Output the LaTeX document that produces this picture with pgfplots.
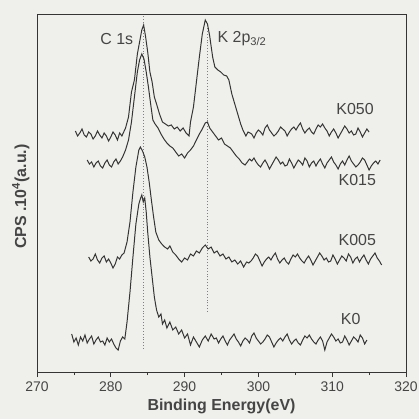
\documentclass[border=0pt]{standalone}
\usepackage{pgfplots}
\pgfplotsset{compat=1.18}
\usepackage{fontspec}
\setmainfont{Liberation Sans}
\definecolor{bg}{HTML}{EFEFEB}
\definecolor{ln}{HTML}{353535}
\definecolor{tx}{HTML}{454545}
\begin{document}
\begin{tikzpicture}
\fill[bg] (-37bp,-47bp) rectangle (382bp,372bp);
\useasboundingbox (-37bp,-47bp) rectangle (382bp,372bp);
\begin{axis}[
  at={(0,0)}, anchor=south west,
  scale only axis, width=369bp, height=358bp,
  xmin=270, xmax=320, ymin=0, ymax=358,
  xtick={270,280,...,320}, minor x tick num=1,
  xtick pos=bottom, ytick=\empty,
  tick align=outside,
  major tick length=5bp, minor tick length=3bp,
  axis line style={ln, line width=0.8pt},
  every tick/.style={ln, line width=0.8pt},
  /pgf/number format/assume math mode=true,
  /pgf/number format/1000 sep={},
  ticklabel style={font=\fontsize{14}{16}\selectfont, text=tx},
  xticklabel style={yshift=-1bp},
  xlabel={\bfseries Binding Energy(eV)},
  xlabel style={font=\fontsize{16}{18}\selectfont, text=tx, at={(axis description cs:0.5,0)}, anchor=north, yshift=-23bp},
  ylabel={\bfseries CPS .10$^{\mathbf 4}$(a.u.)},
  ylabel style={font=\fontsize{16}{18}\selectfont, text=tx, at={(axis description cs:0,0.49)}, anchor=south, yshift=4bp},
  clip=false,
]
% dotted reference lines
\addplot[gray, dotted, line width=0.9pt] coordinates {(284.45,23) (284.45,357)};
\addplot[gray, dotted, line width=0.9pt] coordinates {(293.1,60) (293.1,345)};

% K0
\addplot[ln, line width=1pt] coordinates {
(274.7,38)(275.0,30)(275.3,34)(275.6,27)(275.9,35)(276.2,31)(276.5,37)(276.8,29)(277.1,33)(277.4,36)(277.7,28)(278.0,32)(278.3,35)(278.6,30)(278.9,31)(279.2,27)(279.5,34)(279.8,30)(280.1,33)(280.4,28)(280.7,24)(281.0,22)(281.3,31)(281.6,35)(281.9,33)
(282.2,50)(282.6,80)(283.0,115)(283.4,148)(283.8,168)(284.0,173)(284.2,177)(284.4,170)(284.6,174)(284.8,160)(285.0,140)(285.3,115)(285.6,95)(285.9,75)(286.2,62)(286.5,55)(286.8,58)(287.0,48)(287.3,52)(287.6,44)(288.0,50)(288.4,42)(288.8,45)(289.2,38)(289.6,42)(290.0,34)(290.4,38)(290.8,27)(291.2,35)(291.6,30)(292.0,25)(292.4,32)(292.8,36)(293.2,31)(293.6,38)(294.0,33)
(294.3,34)(294.6,29)(294.9,33)(295.2,36)(295.5,31)(295.8,27)(296.1,32)(296.4,35)(296.7,38)(297.0,33)
(297.3,30)(297.6,26)(297.9,31)(298.2,34)(298.5,32)(298.8,29)(299.1,36)(299.4,39)(299.7,34)(300.0,31)
(300.3,28)(300.6,30)(300.9,33)(301.2,37)(301.5,35)(301.8,30)(302.1,25)(302.4,29)(302.7,32)(303.0,34)
(303.3,31)(303.6,35)(303.9,38)(304.2,32)(304.5,28)(304.8,31)(305.1,33)(305.4,29)(305.7,27)(306.0,32)
(306.3,36)(306.6,34)(306.9,37)(307.2,33)(307.5,30)(307.8,28)(308.1,32)(308.4,35)(308.7,31)(309.0,22)
(309.3,30)(309.6,34)(309.9,38)(310.2,35)(310.5,31)(310.8,33)(311.1,29)(311.4,30)(311.7,36)(312.0,32)
(312.3,27)(312.6,31)(312.9,35)(313.2,33)(313.5,30)(313.8,37)(314.1,34)(314.4,28)(314.7,32)
};

% K005
\addplot[ln, line width=1pt] coordinates {
(277.0,115)(277.3,111)(277.6,113)(277.9,118)(278.2,112)(278.5,109)(278.8,114)(279.1,116)(279.4,110)(279.7,113)(280.0,109)(280.3,104)(280.6,108)(280.9,115)(281.2,113)(281.5,117)(281.8,119)
(282.2,130)(282.6,150)(283.0,180)(283.4,205)(283.8,222)(284.0,225)(284.3,221)(284.6,215)(284.9,205)(285.2,190)(285.5,172)(285.8,155)(286.1,140)(286.5,132)(286.9,128)(287.3,125)(287.7,123)(288.0,126)(288.4,120)(288.8,117)(289.2,113)(289.6,110)(290.0,114)(290.4,112)(290.8,118)(291.2,116)(291.6,121)(292.0,119)(292.4,124)(292.8,127)(293.2,123)(293.6,125)(294.0,119)(294.4,121)(294.8,116)(295.2,118)(295.6,113)(296.0,115)(296.4,110)(296.8,112)(297.2,108)(297.6,111)(298.0,105)(298.4,110)
(298.7,109)(299.0,111)(299.3,114)(299.6,118)(299.9,116)(300.2,111)(300.5,106)(300.8,110)(301.1,113)(301.4,115)
(301.7,112)(302.0,116)(302.3,119)(302.6,113)(302.9,109)(303.2,112)(303.5,114)(303.8,110)(304.1,108)(304.4,113)
(304.7,117)(305.0,115)(305.3,118)(305.6,114)(305.9,111)(306.2,109)(306.5,113)(306.8,116)(307.1,112)(307.4,107)
(307.7,111)(308.0,115)(308.3,119)(308.6,116)(308.9,112)(309.2,114)(309.5,110)(309.8,111)(310.1,117)(310.4,113)
(310.7,108)(311.0,112)(311.3,116)(311.6,114)(311.9,111)(312.2,118)(312.5,115)(312.8,109)(313.1,113)(313.4,115)
(313.7,110)(314.0,114)(314.3,117)(314.6,112)(314.9,108)(315.2,113)(315.5,116)(315.8,119)(316.1,114)(316.4,111)
(316.7,107)
};

% K015
\addplot[ln, line width=1pt] coordinates {
(276.8,212)(277.1,208)(277.4,210)(277.7,205)(278.0,209)(278.3,211)(278.6,206)(278.9,204)(279.2,209)(279.5,212)(279.8,207)(280.1,205)(280.4,210)(280.7,213)(281.0,208)(281.3,211)(281.6,215)
(282.0,222)(282.4,232)(282.8,250)(283.2,275)(283.6,300)(283.9,312)(284.2,318)(284.5,313)(284.8,300)(285.1,285)(285.4,268)(285.7,252)(286.0,248)(286.4,244)(286.8,238)(287.2,233)(287.6,229)(288.0,226)(288.4,224)(288.8,220)(289.2,216)(289.6,218)(290.0,214)(290.4,219)(290.8,222)(291.2,226)(291.6,232)(292.0,238)(292.4,243)(292.8,249)(293.1,250)(293.4,244)(293.8,240)(294.2,236)(294.6,232)(295.0,234)(295.4,228)(295.8,226)(296.2,224)(296.6,220)(297.0,216)(297.4,213)(297.8,209)(298.2,207)(298.5,210)
(298.8,213)(299.1,211)(299.4,214)(299.7,210)(300.0,207)(300.3,205)(300.6,209)(300.9,212)(301.2,208)(301.5,203)
(301.8,207)(302.1,211)(302.4,215)(302.7,212)(303.0,208)(303.3,210)(303.6,206)(303.9,207)(304.2,213)(304.5,209)
(304.8,204)(305.1,208)(305.4,212)(305.7,210)(306.0,207)(306.3,214)(306.6,211)(306.9,205)(307.2,209)(307.5,211)
(307.8,206)(308.1,210)(308.4,213)(308.7,208)(309.0,204)(309.3,209)(309.6,212)(309.9,215)(310.2,210)(310.5,207)
(310.8,203)(311.1,208)(311.4,211)(311.7,207)(312.0,212)(312.3,216)(312.6,211)(312.9,208)(313.2,205)(313.5,207)
(313.8,210)(314.1,214)(314.4,212)(314.7,207)(315.0,202)(315.3,206)(315.6,209)(315.9,211)(316.2,208)(316.5,212)
};

% K050
\addplot[ln, line width=1pt] coordinates {
(275.2,241)(275.5,236)(275.8,239)(276.1,243)(276.4,237)(276.7,235)(277.0,240)(277.3,238)(277.6,233)(277.9,236)(278.2,241)(278.5,237)(278.8,234)(279.1,239)(279.4,236)(279.7,231)(280.0,235)(280.3,240)(280.6,237)(280.9,232)(281.2,239)(281.5,236)
(282.0,244)(282.4,255)(282.8,280)(283.2,292)(283.6,318)(283.9,330)(284.2,342)(284.45,347)(284.7,336)(285.0,320)(285.3,300)(285.6,290)(285.9,275)(286.2,268)(286.6,258)(287.0,250)(287.4,248)(287.8,246)(288.2,247)(288.6,243)(289.0,245)(289.4,241)(289.8,244)(290.2,239)(290.6,236)(290.8,250)(291.2,265)(291.6,290)(292.0,315)(292.4,338)(292.8,352)(293.1,348)(293.4,336)(293.8,315)(294.1,305)(294.5,302)(294.9,300)(295.3,297)(295.7,296)(296.0,292)(296.4,278)(296.8,268)(297.2,258)(297.6,248)(297.9,242)(298.3,236)(298.6,240)
(299.1,238)(299.4,234)(299.7,239)(300.0,242)(300.3,240)(300.6,237)(300.9,244)(301.2,247)(301.5,242)(301.8,239)(302.1,236)(302.4,238)(302.7,241)(303.0,245)(303.3,243)
(303.6,241)(303.9,236)(304.2,240)(304.5,243)(304.8,245)(305.1,242)(305.4,246)(305.7,249)(306.0,243)(306.3,239)(306.6,242)(306.9,244)(307.2,240)(307.5,238)(307.8,243)(308.1,247)(308.4,245)(308.7,248)(309.0,244)(309.3,241)
(309.6,236)(309.9,240)(310.2,243)(310.5,239)(310.8,234)(311.1,238)(311.4,242)(311.7,246)(312.0,243)(312.3,239)(312.6,241)(312.9,237)(313.2,238)(313.5,244)(313.8,240)(314.1,235)(314.4,239)(314.7,243)(315.0,240)
};

% labels
\node[text=tx, font=\fontsize{16}{18}\selectfont, anchor=east] at (axis cs:283.5,333) {C 1s};
\node[text=tx, font=\fontsize{16}{18}\selectfont, anchor=west] at (axis cs:294.0,333) {K 2p\textsubscript{3/2}};
\node[text=tx, font=\fontsize{16}{18}\selectfont] at (axis cs:313.1,263) {K050};
\node[text=tx, font=\fontsize{16}{18}\selectfont] at (axis cs:313.4,192) {K015};
\node[text=tx, font=\fontsize{16}{18}\selectfont] at (axis cs:313.4,132) {K005};
\node[text=tx, font=\fontsize{16}{18}\selectfont] at (axis cs:312.5,53) {K0};
\end{axis}
\end{tikzpicture}
\end{document}
